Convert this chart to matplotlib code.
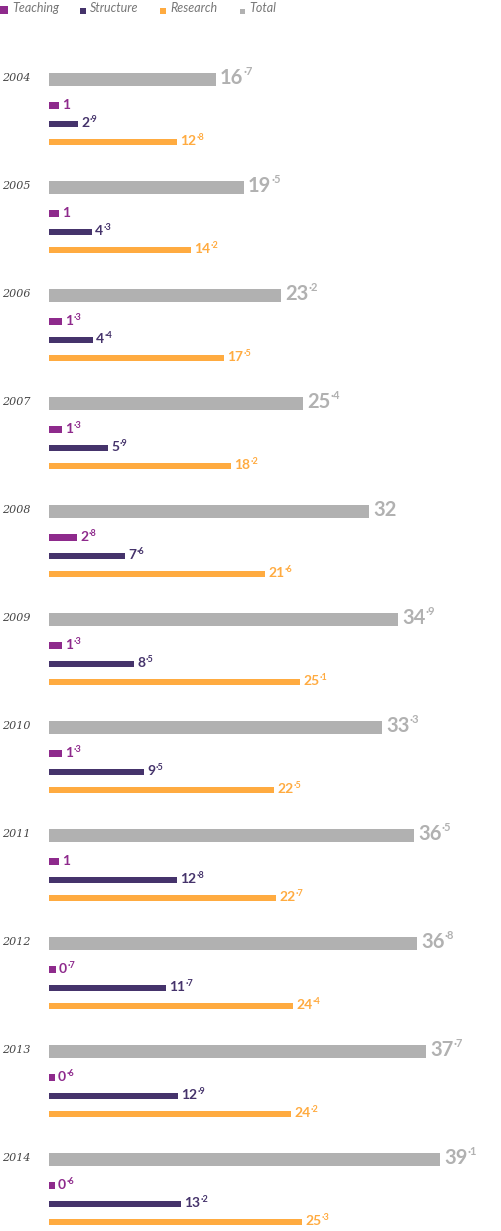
import matplotlib.pyplot as plt
import matplotlib.patches as patches

years = ['2004', '2005', '2006', '2007', '2008', '2009', '2010', '2011', '2012', '2013', '2014']
total = [16.7, 19.5, 23.2, 25.4, 32, 34.9, 33.3, 36.5, 36.8, 37.7, 39.1]
teaching = [1, 1, 1.3, 1.3, 2.8, 1.3, 1.3, 1, 0.7, 0.6, 0.6]
structure = [2.9, 4.3, 4.4, 5.9, 7.6, 8.5, 9.5, 12.8, 11.7, 12.9, 13.2]
research = [12.8, 14.2, 17.5, 18.2, 21.6, 25.1, 22.5, 22.7, 24.4, 24.2, 25.3]

series_names = ['Teaching', 'Structure', 'Research', 'Total']
c_teach = '#8e2a8c'
c_struct = '#45336b'
c_res = '#ffab40'
c_tot = '#b1b1b1'

W, H = 501, 1231
fig = plt.figure(figsize=(W / 100, H / 100), dpi=100)

# main axes: 0 at pixel 49, 10 px per unit, y in pixels (top down)
ax = fig.add_axes([0, 0, 1, 1])
ax.set_xlim(-4.9, (W - 49) / 10)
ax.set_ylim(H, 0)
ax.axis('off')

# overlay in pure pixel coords for legend / year labels
ov = fig.add_axes([0, 0, 1, 1])
ov.set_xlim(0, W)
ov.set_ylim(H, 0)
ov.axis('off')


def split(v):
    s = '%.1f' % v
    whole, dec = s.split('.')
    if dec == '0':
        return whole, ''
    return whole, '\u00b7' + dec


def label(x, y, v, color, size, sup_size):
    whole, dec = split(v)
    t = ax.text(x, y, whole, color=color, fontsize=size, fontweight='bold',
                family='Lato', va='baseline', ha='left')
    if dec:
        ax.annotate(dec, xy=(1, 1), xycoords=t, xytext=(0.2, 1.5),
                    textcoords='offset points', color=color, fontsize=sup_size,
                    fontweight='bold', family='Lato', va='top', ha='left')


step = 108
for i, yr in enumerate(years):
    base = 79 + step * i
    ov.text(2, base - 1, yr, fontsize=8, style='italic', family='DejaVu Serif',
            color='#444444', va='center', ha='left')

    ax.barh(base, total[i], height=13, color=c_tot, left=0)
    label(total[i] + 0.4, base + 5, total[i], c_tot, 14.5, 8)

    rows = [(base + 26.5, teaching[i], c_teach),
            (base + 45, structure[i], c_struct),
            (base + 63, research[i], c_res)]
    for y, v, c in rows:
        ax.barh(y, v, height=6.5, color=c, left=0)
        label(v + 0.3, y + 3.3, v, c, 10, 6.5)

# legend
leg_x = [0, 80, 160, 240]
leg_sz = [8, 6, 6, 5]
leg_c = [c_teach, c_struct, c_res, c_tot]
for x, s, c, name in zip(leg_x, leg_sz, leg_c, series_names):
    ov.add_patch(patches.Rectangle((x, 14 - s), s, s, color=c, lw=0))
    ov.text(x + s + 4, 8, name, fontsize=9, style='italic', family='Lato',
            color='#777777', va='center', ha='left')

fig.savefig('out.png', dpi=100)
